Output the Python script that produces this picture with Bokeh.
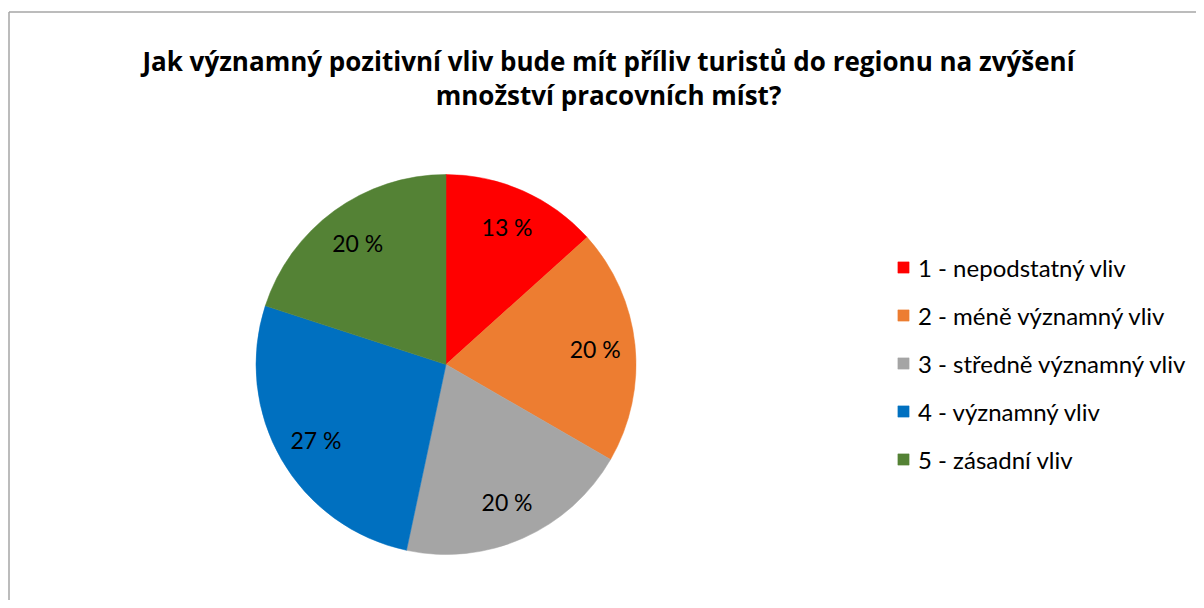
import math
from bokeh.plotting import figure
from bokeh.models import Range1d, ColumnDataSource, Legend, LegendItem
from bokeh.core.properties import value
from bokeh.embed import file_html
from bokeh.resources import INLINE

# ---- data ----
categories = ["1 - nepodstatný vliv", "2 - méně významný vliv",
              "3 - středně významný vliv", "4 - významný vliv", "5 - zásadní vliv"]
counts = [2, 3, 3, 4, 3]
colors = ["#FF0000", "#ED7D31", "#A5A5A5", "#0070C0", "#548235"]
title_lines = ["Jak významný pozitivní vliv bude mít příliv turistů do regionu na zvýšení",
               "množství pracovních míst?"]

FONT = "Lato"
TITLE_FONT = "Open Sans"
W, H = 1196, 600
CX, CY, R = 445.5, 236.0, 190.0

total = sum(counts)
fracs = [c / total for c in counts]
starts, ends, lx, ly, labels = [], [], [], [], []
cum = 0.0
for f in fracs:
    a0 = math.pi / 2 - 2 * math.pi * cum
    a1 = math.pi / 2 - 2 * math.pi * (cum + f)
    mid = (a0 + a1) / 2
    starts.append(a0)
    ends.append(a1)
    lx.append(CX + 0.79 * R * math.cos(mid))
    ly.append(CY + 0.79 * R * math.sin(mid))
    labels.append(f"{round(100 * f)} %")
    cum += f

src = ColumnDataSource(dict(cat=categories, start=starts, end=ends, color=colors,
                            lx=lx, ly=ly, label=labels,
                            cx=[CX] * len(counts), cy=[CY] * len(counts)))

p = figure(width=W, height=H, x_range=Range1d(0, W), y_range=Range1d(0, H),
           output_backend="svg", toolbar_location=None, min_border=0,
           x_axis_location=None, y_axis_location=None)
p.grid.visible = False
p.outline_line_color = None
p.background_fill_color = "white"
p.border_fill_color = "white"

# chart-area border (left and top edges visible in the crop)
p.segment(x0=[8.5, 8.5], y0=[0, H - 11.5], x1=[8.5, W], y1=[H - 11.5, H - 11.5],
          line_color="#a6a6a6", line_width=1.5)

wedges = p.wedge(x="cx", y="cy", radius=R, start_angle="start", end_angle="end",
                 direction="clock", fill_color="color", line_color="color",
                 line_width=0.5, source=src)

p.text(x="lx", y="ly", text="label", source=src, text_align="center",
       text_baseline="middle", text_font=value(FONT), text_font_size="23px",
       text_color="black")

# title
p.text(x=[608, 608], y=[540, 506], text=title_lines,
       text_align="center", text_baseline="middle", text_font=value(TITLE_FONT),
       text_font_size="26px", text_font_style="bold", text_color="black")

items = [LegendItem(label=c, renderers=[wedges], index=i) for i, c in enumerate(categories)]
legend = Legend(items=items, location=(896, 126), orientation="vertical",
                glyph_width=14, glyph_height=14, label_standoff=8,
                label_text_font=FONT, label_text_font_size="24px",
                label_text_color="black", label_height=30, spacing=18,
                padding=0, margin=0, border_line_color=None,
                background_fill_alpha=0)
p.add_layout(legend)

open("out.html", "w").write(file_html(p, INLINE))
